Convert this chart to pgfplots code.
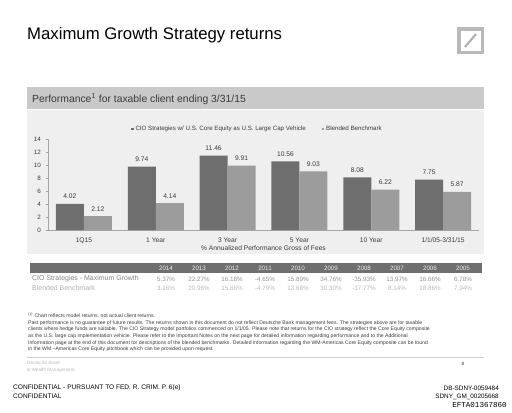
\documentclass[border=0pt]{standalone}
\usepackage{pgfplots}
\pgfplotsset{compat=1.18}
\usepackage{fontspec}
\setmainfont{Liberation Sans}
\newfontfamily\monofont{Liberation Mono}
\definecolor{darkbar}{HTML}{6E6E6E}
\definecolor{lightbar}{HTML}{9C9C9C}
\definecolor{panel}{HTML}{EFEFEF}
\definecolor{hdr}{HTML}{C9C9C9}
\definecolor{tblhdr}{HTML}{6F6F6F}
\definecolor{txt}{HTML}{3A3A3A}
\newcommand{\fs}[1]{\fontsize{#1}{#1}\selectfont}
\begin{document}
\begin{tikzpicture}
\fill[white] (0,0) rectangle (512bp,-413bp);
\begin{scope}[x=1bp,y=-1bp]
% title
\node[anchor=west,inner sep=0,text=black] at (27,35) {\fs{16.8}Maximum Growth Strategy returns};
% logo
\draw[line width=3.5bp,gray!55] (458.75,28.75) rectangle (482.25,52.25);
\draw[line width=2.2bp,gray!60] (465,47) -- (476,34);
% header bar
\fill[hdr] (27,87) rectangle (484,109);
\node[anchor=west,inner sep=0,text=txt] at (32,99) {\fs{10.4}Performance\textsuperscript{1} for taxable client ending 3/31/15};
% panel
\fill[panel] (27,110) rectangle (484,254);
% table
\fill[tblhdr] (30,263) rectangle (482,273);
\foreach \yr [count=\i from 0] in {2014,2013,2012,2011,2010,2009,2008,2007,2006,2005}{
  \node[text=white!92!black,inner sep=0] at (166+33*\i,268) {\fs{6.3}\yr};
}
\node[anchor=west,inner sep=0,text=gray!95] at (32,279) {\fs{7}CIO Strategies - Maximum Growth};
\node[anchor=west,inner sep=0,text=gray!60] at (32,288.5) {\fs{7}Blended Benchmark};
\foreach \v [count=\i from 0] in {5.37\%,22.27\%,16.18\%,-4.65\%,15.89\%,34.76\%,-35.93\%,13.97\%,16.66\%,6.78\%}{
  \node[text=gray!85,inner sep=0] at (166+33*\i,279) {\fs{6.3}\v};
}
\foreach \v [count=\i from 0] in {3.16\%,20.96\%,15.66\%,-4.79\%,13.68\%,30.30\%,-37.77\%,8.14\%,18.86\%,7.94\%}{
  \node[text=gray!55,inner sep=0] at (166+33*\i,288.5) {\fs{6.3}\v};
}
% footnotes
\node[anchor=west,inner sep=0,text=txt] at (28,316) {\fs{5.15}\textsuperscript{(1)} Chart reflects model returns, not actual client returns.};
\node[anchor=west,inner sep=0,text=txt] at (28,322.7) {\fs{5.15}Past performance is no guarantee of future results. The returns shown in this document do not reflect Deutsche Bank management fees. The strategies above are for taxable};
\node[anchor=west,inner sep=0,text=txt] at (28,329.3) {\fs{5.15}clients where hedge funds are suitable. The CIO Strategy model portfolios commenced on 1/1/05. Please note that returns for the CIO strategy reflect the Core Equity composite};
\node[anchor=west,inner sep=0,text=txt] at (28,336) {\fs{5.15}as the U.S. large cap implementation vehicle. Please refer to the Important Notes on the next page for detailed information regarding performance and to the Additional};
\node[anchor=west,inner sep=0,text=txt] at (28,342.7) {\fs{5.15}Information page at the end of this document for descriptions of the blended benchmarks. Detailed information regarding the WM-Americas Core Equity composite can be found};
\node[anchor=west,inner sep=0,text=txt] at (28,349.3) {\fs{5.15}in the WM --Americas Core Equity pitchbook which can be provided upon request.};
\draw[gray!35,line width=0.5bp] (27,357) -- (484,357);
\node[anchor=west,inner sep=0,text=gray!55] at (27,363) {\fs{4.7}Deutsche Asset};
\node[anchor=west,inner sep=0,text=gray!55] at (27,370.5) {\fs{4.7}\& Wealth Management};
\node[inner sep=0,text=txt] at (463,363.5) {\fs{4.7}8};
% confidential
\node[anchor=west,inner sep=0,text=black] at (13,388) {\fs{6.6}CONFIDENTIAL - PURSUANT TO FED. R. CRIM. P. 6(e)};
\node[anchor=west,inner sep=0,text=black] at (13,396.5) {\fs{6.6}CONFIDENTIAL};
\node[anchor=east,inner sep=0,text=black] at (499,388) {\fs{6.4}DB-SDNY-0059484};
\node[anchor=east,inner sep=0,text=black] at (499,396.5) {\fs{6.4}SDNY\_GM\_00205668};
\node[anchor=east,inner sep=0,text=black] at (507,405) {\monofont\fs{7.6}EFTA01367860};
\end{scope}
\begin{axis}[
  at={(48bp,-230bp)}, anchor=south west,
  scale only axis, width=431bp, height=91bp,
  ybar, bar width=28bp, ybar=0pt,
  xmin=-0.5, xmax=5.5, ymin=0, ymax=14,
  xtick=data,
  xticklabels={1Q15,1 Year,3 Year,5 Year,10 Year,1/1/05-3/31/15},
  ytick={0,2,4,6,8,10,12,14},
  axis x line=bottom, axis y line=left,
  axis line style={gray!70,-},
  xtick style={draw=none},
  ytick style={gray!70},
  tick align=outside, major tick length=2.5bp,
  /pgf/number format/assume math mode=true,
  tick label style={text=txt},
  x tick label style={font=\fs{6.7},yshift=-2bp},
  y tick label style={font=\fs{6.3},xshift=-1bp},
  xlabel={\% Annualized Performance Gross of Fees},
  xlabel style={font=\fs{6.7},text=txt,at={(axis description cs:0.5,0)},anchor=center,yshift=-18bp},
  nodes near coords,
  nodes near coords style={font=\fs{6.7},text=txt,anchor=south,yshift=1.5bp,/pgf/number format/fixed,/pgf/number format/fixed zerofill,/pgf/number format/precision=2},
  legend columns=2,
  legend style={at={(0.486,1)},anchor=center,yshift=10bp,draw=none,fill=none,font=\fs{6.2},text=txt,
    /tikz/every even column/.append style={column sep=14bp}},
]
\addplot[fill=darkbar,draw=none,legend image code/.code={\fill[darkbar] (0bp,-1.2bp) rectangle (2.4bp,1.2bp);}]
  coordinates {(0,4.02) (1,9.74) (2,11.46) (3,10.56) (4,8.08) (5,7.75)};
\addlegendentry{CIO Strategies w/ U.S. Core Equity as U.S. Large Cap Vehicle}
\addplot[fill=lightbar,draw=none,legend image code/.code={\fill[lightbar] (0bp,-1.2bp) rectangle (2.4bp,1.2bp);}]
  coordinates {(0,2.12) (1,4.14) (2,9.91) (3,9.03) (4,6.22) (5,5.87)};
\addlegendentry{Blended Benchmark}
\end{axis}
\end{tikzpicture}
\end{document}
